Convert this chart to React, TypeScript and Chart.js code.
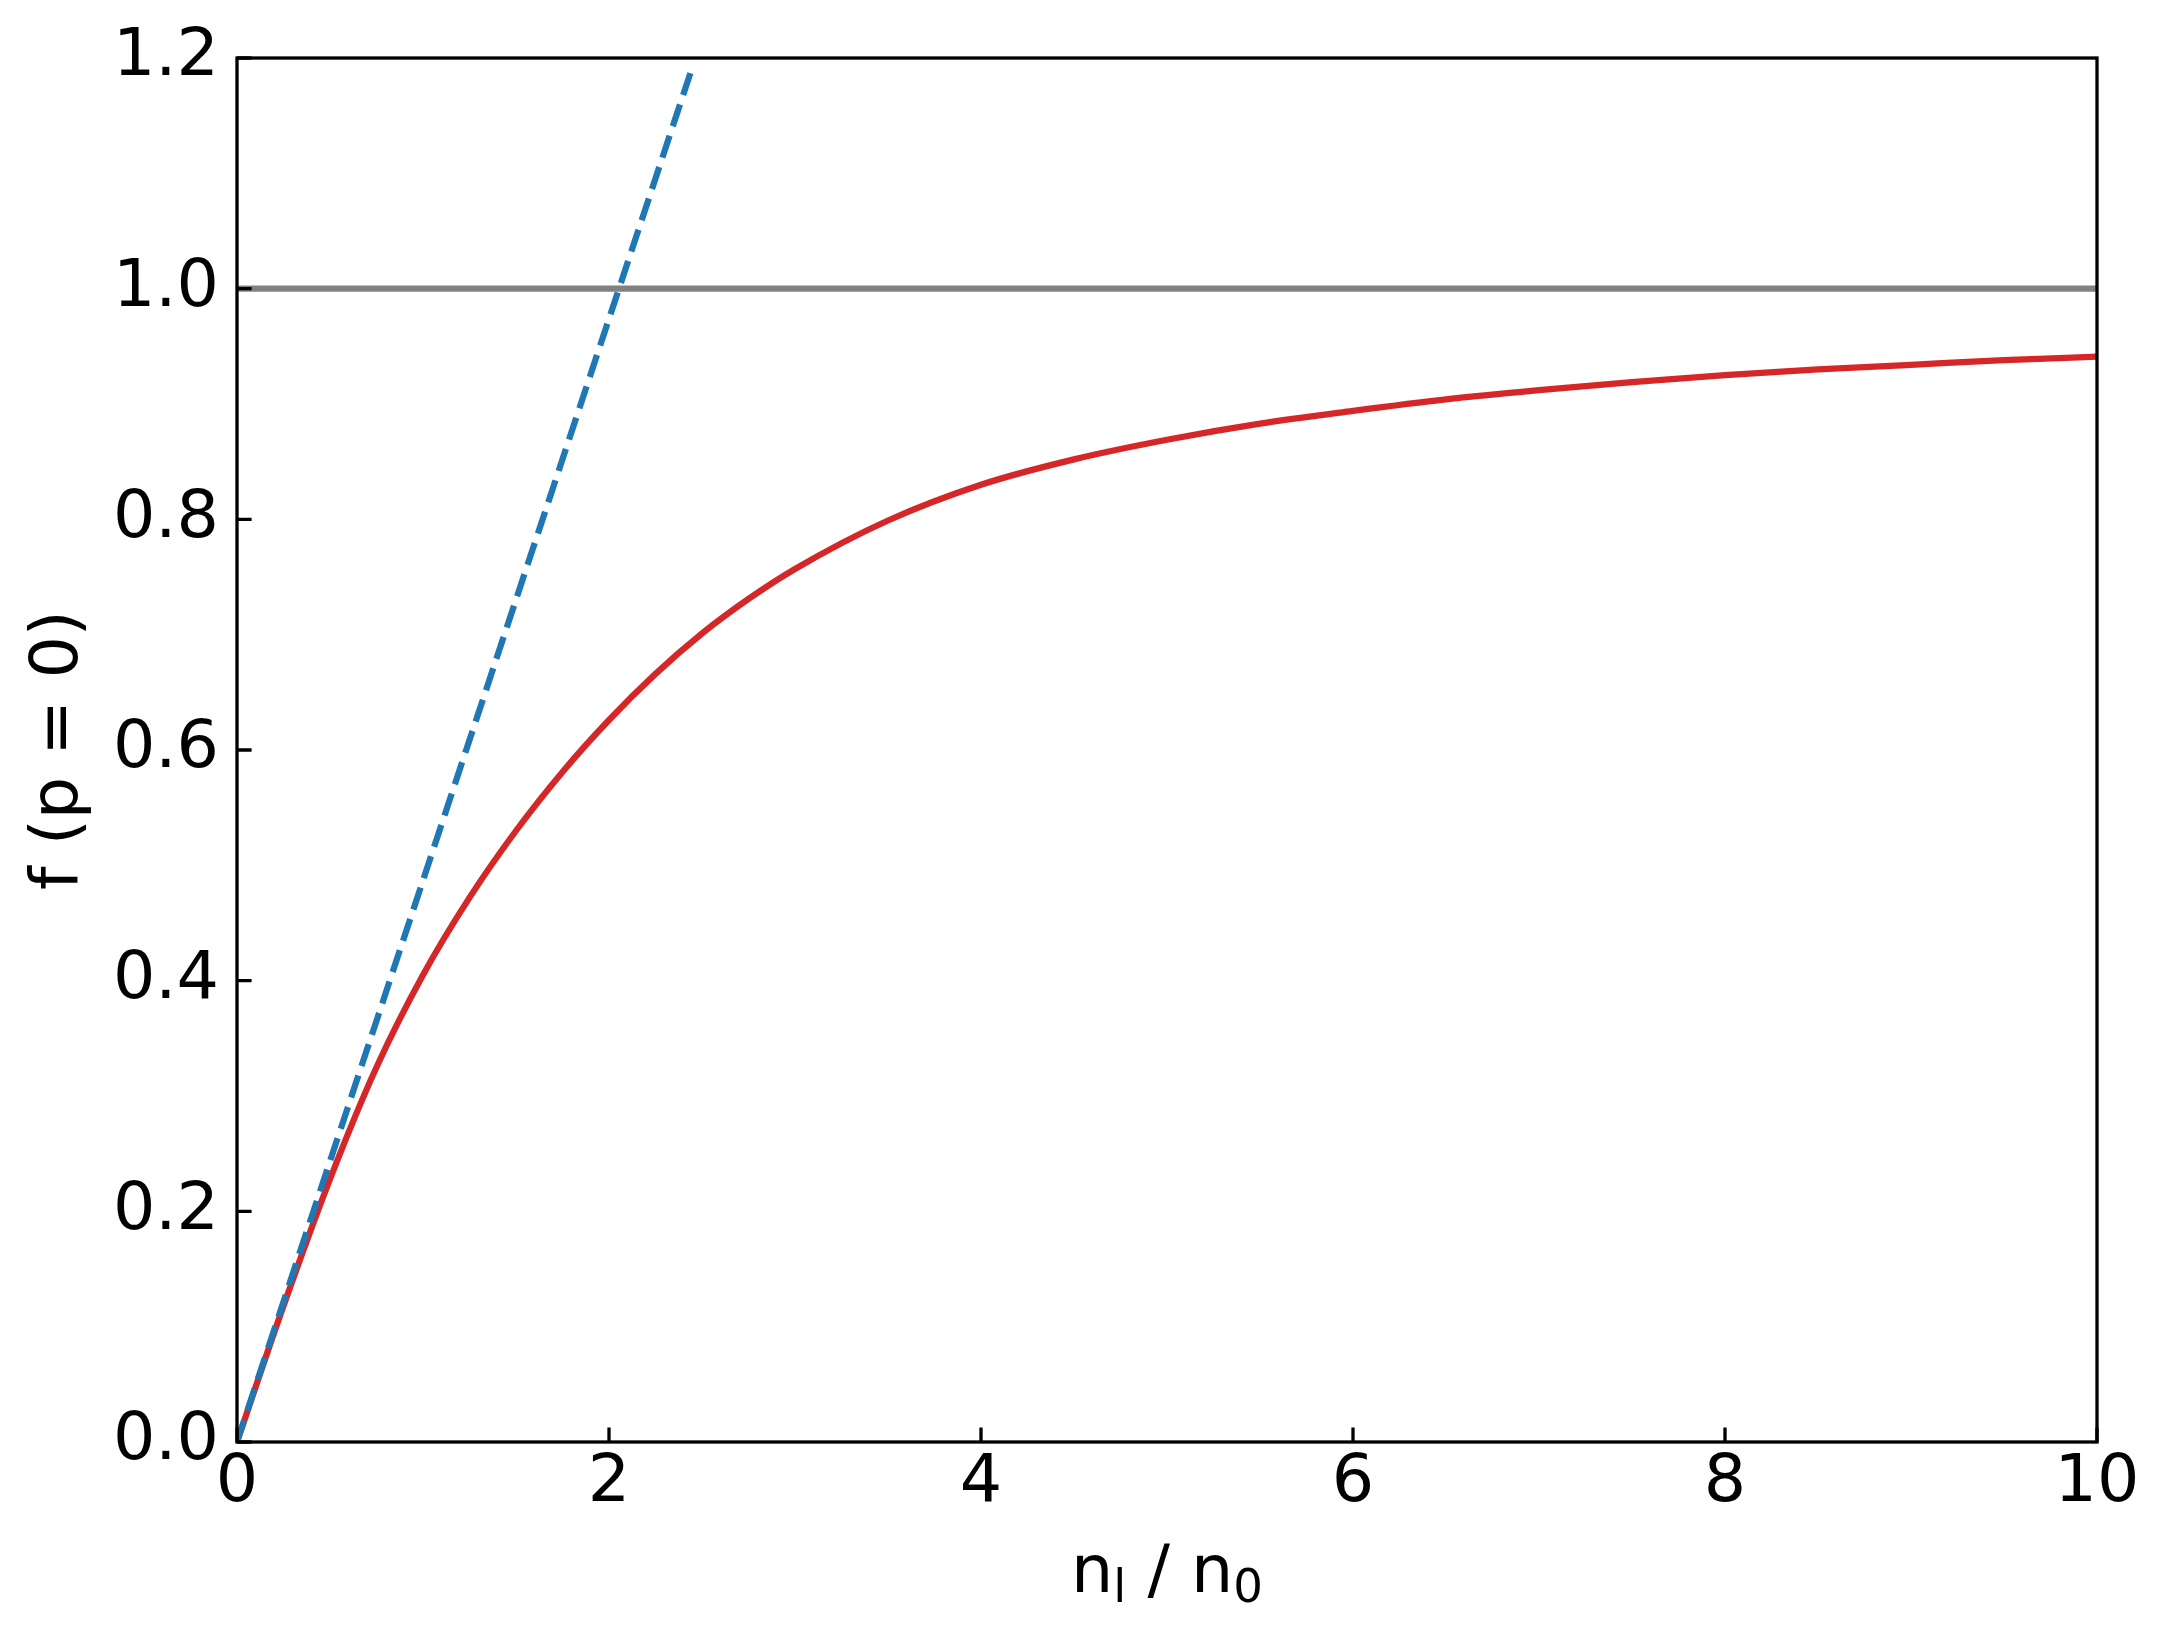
import React, { useEffect, useRef } from "react";
import { Chart, registerables } from "chart.js";

Chart.register(...registerables);

// ---- data ----
const redX = [0, 0.25, 0.5, 0.75, 1.0, 1.25, 1.5, 1.75, 2.0, 2.25, 2.5, 2.75, 3.0, 3.5, 4.0, 4.5, 5.0, 5.5, 6.0, 6.5, 7.0, 7.5, 8.0, 8.5, 9.0, 9.5, 10.0];
const redY = [0, 0.118, 0.228, 0.325, 0.405, 0.472, 0.53, 0.581, 0.626, 0.666, 0.701, 0.731, 0.757, 0.799, 0.83, 0.852, 0.869, 0.883, 0.894, 0.904, 0.912, 0.919, 0.925, 0.93, 0.934, 0.938, 0.941];
const blueX = [0, 2.45];
const blueY = [0, 1.193];
const refX = [0, 10];
const refY = [1.0, 1.0];
const xTickStep = 2;
const yTickStep = 0.2;
const xLimits = [0, 10];
const yLimits = [0, 1.2];
const yTitle = "f (p = 0)";
const xTitleParts = [
  { text: "n", sub: false },
  { text: "l", sub: true },
  { text: " / ", sub: false },
  { text: "n", sub: false },
  { text: "0", sub: true },
];

const FAMILY = '"DejaVu Sans", sans-serif';
const FS = 66.7;

const toPts = (xs: number[], ys: number[]) => xs.map((x, i) => ({ x, y: ys[i] }));

const decorPlugin = {
  id: "decor",
  afterDraw(chart: any) {
    const { ctx, chartArea: a, scales } = chart;
    ctx.save();
    ctx.strokeStyle = "#000";
    ctx.lineWidth = 3.3;
    ctx.lineCap = "butt";
    ctx.beginPath();
    scales.x.ticks.forEach((t: any) => {
      const px = scales.x.getPixelForValue(t.value);
      ctx.moveTo(px, a.bottom);
      ctx.lineTo(px, a.bottom - 14.6);
    });
    scales.y.ticks.forEach((t: any) => {
      const py = scales.y.getPixelForValue(t.value);
      ctx.moveTo(a.left, py);
      ctx.lineTo(a.left + 14.6, py);
    });
    ctx.stroke();
    ctx.lineJoin = "miter";
    ctx.strokeRect(a.left, a.top, a.right - a.left, a.bottom - a.top);

    // x-axis title with subscripts
    const mainFont = `${FS}px ${FAMILY}`;
    const subFont = `${FS * 0.7}px ${FAMILY}`;
    let total = 0;
    const widths = xTitleParts.map((p) => {
      ctx.font = p.sub ? subFont : mainFont;
      const w = ctx.measureText(p.text).width;
      total += w;
      return w;
    });
    let x = (a.left + a.right) / 2 - total / 2;
    const baseline = 1592;
    ctx.fillStyle = "#000";
    ctx.textBaseline = "alphabetic";
    ctx.textAlign = "left";
    xTitleParts.forEach((p, i) => {
      ctx.font = p.sub ? subFont : mainFont;
      ctx.fillText(p.text, x, p.sub ? baseline + 10 : baseline);
      x += widths[i];
    });
    ctx.restore();
  },
};

export default function App() {
  const ref = useRef<HTMLCanvasElement | null>(null);

  useEffect(() => {
    if (!ref.current) return;
    const chart = new Chart(ref.current, {
      type: "line",
      data: {
        datasets: [
          {
            data: toPts(blueX, blueY),
            borderColor: "#1f77b4",
            borderWidth: 6.25,
            borderDash: [23, 10],
            borderCapStyle: "butt",
            pointRadius: 0,
            fill: false,
            order: 0,
          },
          {
            data: toPts(redX, redY),
            borderColor: "#d62728",
            borderWidth: 6.25,
            pointRadius: 0,
            cubicInterpolationMode: "monotone",
            fill: false,
            order: 1,
          },
          {
            data: toPts(refX, refY),
            borderColor: "#808080",
            borderWidth: 6.25,
            pointRadius: 0,
            fill: false,
            order: 2,
          },
        ],
      },
      options: {
        responsive: false,
        animation: false,
        devicePixelRatio: 1,
        layout: { padding: { left: 0, right: 72, top: 57, bottom: 0 } },
        plugins: {
          legend: { display: false },
          tooltip: { enabled: false },
        },
        scales: {
          x: {
            type: "linear",
            min: xLimits[0],
            max: xLimits[1],
            grid: { display: false, drawTicks: false },
            border: { display: false },
            ticks: {
              stepSize: xTickStep,
              padding: 2,
              color: "#000",
              maxRotation: 0,
              autoSkip: false,
              font: { family: FAMILY, size: FS },
            },
            afterFit: (s: any) => {
              s.height = 193;
            },
          },
          y: {
            type: "linear",
            min: yLimits[0],
            max: yLimits[1],
            grid: { display: false, drawTicks: false },
            border: { display: false },
            ticks: {
              stepSize: yTickStep,
              padding: 18,
              color: "#000",
              autoSkip: false,
              font: { family: FAMILY, size: FS },
              callback: (v: any) => Number(v).toFixed(1),
            },
            title: {
              display: true,
              text: yTitle,
              color: "#000",
              font: { family: FAMILY, size: FS },
              padding: { top: 20, bottom: 0 },
            },
            afterFit: (s: any) => {
              s.width = 237;
            },
          },
        },
      },
      plugins: [decorPlugin],
    });
    return () => chart.destroy();
  }, []);

  return (
    <div style={{ position: "absolute", left: 0, top: 0, width: 2169, height: 1635, background: "#fff" }}>
      <canvas ref={ref} width={2169} height={1635} style={{ display: "block" }} />
    </div>
  );
}
